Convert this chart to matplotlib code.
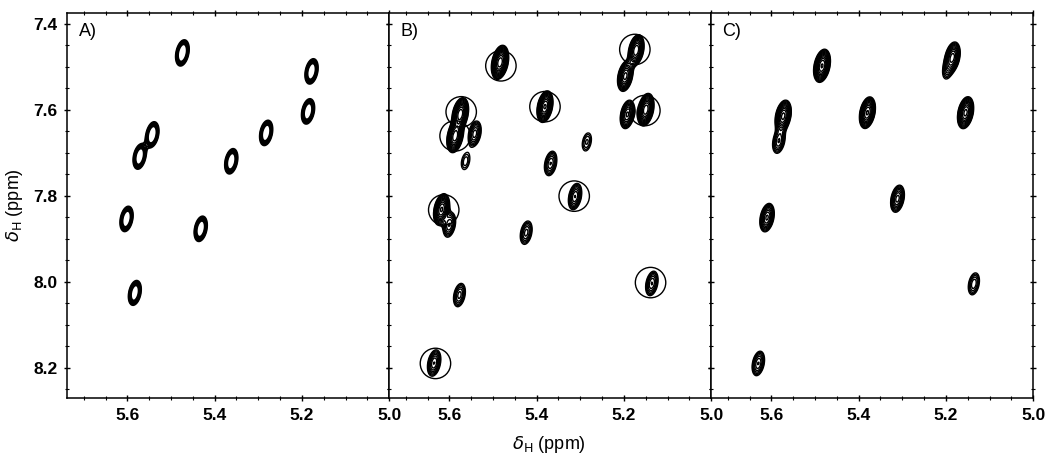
import numpy as np
import matplotlib.pyplot as plt
from matplotlib.ticker import MultipleLocator

plt.rcParams['font.family'] = ['Liberation Sans', 'DejaVu Sans']
plt.rcParams['mathtext.fontset'] = 'dejavusans'

# Peak positions (ppm) and relative intensities
a_x = [5.474, 5.178, 5.186, 5.543, 5.572, 5.282, 5.362, 5.602, 5.432, 5.583]
a_y = [7.468, 7.511, 7.604, 7.658, 7.709, 7.654, 7.720, 7.854, 7.877, 8.026]
a_amp = [1.1, 1.0, 1.0, 1.05, 1.0, 1.0, 1.0, 1.0, 1.0, 0.95]

b_x = [5.484, 5.172, 5.197, 5.150, 5.192, 5.381, 5.575, 5.587, 5.542, 5.563,
       5.285, 5.368, 5.312, 5.618, 5.600, 5.424, 5.136, 5.577, 5.635]
b_y = [7.490, 7.462, 7.522, 7.600, 7.611, 7.593, 7.610, 7.662, 7.656, 7.720,
       7.675, 7.725, 7.802, 7.832, 7.868, 7.886, 8.004, 8.031, 8.189]
b_amp = [3.0, 2.0, 1.8, 2.4, 1.4, 2.1, 2.4, 2.4, 1.0, 0.45,
         0.5, 0.9, 1.1, 2.1, 0.9, 0.8, 0.9, 0.8, 1.1]

# circled peaks in panel B
circ_x = [5.482, 5.175, 5.152, 5.381, 5.573, 5.587, 5.314, 5.613, 5.139, 5.632]
circ_y = [7.498, 7.460, 7.602, 7.593, 7.605, 7.661, 7.801, 7.833, 8.002, 8.190]

c_x = [5.484, 5.185, 5.197, 5.380, 5.155, 5.573, 5.583, 5.311, 5.610, 5.136, 5.630]
c_y = [7.498, 7.478, 7.508, 7.607, 7.607, 7.615, 7.673, 7.807, 7.851, 8.005, 8.190]
c_amp = [2.6, 1.8, 0.45, 2.1, 2.2, 2.2, 0.9, 1.2, 1.4, 0.7, 0.9]

panel_labels = ['A)', 'B)', 'C)']
xticks = [5.6, 5.4, 5.2, 5.0]
yticks = [7.4, 7.6, 7.8, 8.0, 8.2]

XLIM = (5.738, 5.0)
YLIM = (8.27, 7.375)


def spectrum(px, py, amp, sx=0.0085, sy=0.0178, shear=0.15):
    gx = np.linspace(5.0, 5.74, 300)
    gy = np.linspace(7.375, 8.27, 240)
    X, Y = np.meshgrid(gx, gy)
    Z = np.zeros_like(X)
    for x0, y0, a in zip(px, py, amp):
        dy = Y - y0
        dx = X - x0 - shear * dy
        Z += a * np.exp(-0.5 * (dx / sx) ** 2 - 0.5 * (dy / sy) ** 2)
    return X, Y, Z


fig, axes = plt.subplots(1, 3, sharey=True, figsize=(10.5, 4.61), dpi=100)
fig.subplots_adjust(left=0.064, right=0.984, top=0.972, bottom=0.137, wspace=0)

# A: hollow thick rings
X, Y, Z = spectrum(a_x, a_y, a_amp)
axes[0].contour(X, Y, Z, levels=[0.27, 0.33, 0.4, 0.48, 0.57], colors='k', linewidths=1.5)

# B and C: stacks of thin contours
lev = [0.25, 0.31, 0.38, 0.47, 0.58, 0.72, 0.88, 1.08, 1.32, 1.62, 2.0, 2.5, 3.1]
X, Y, Z = spectrum(b_x, b_y, b_amp)
axes[1].contour(X, Y, Z, levels=lev, colors='k', linewidths=1.0)
axes[1].scatter(circ_x, circ_y, s=480, facecolors='none', edgecolors='k', linewidths=1.0)

X, Y, Z = spectrum(c_x, c_y, c_amp)
axes[2].contour(X, Y, Z, levels=lev, colors='k', linewidths=1.0)

for ax, lab in zip(axes, panel_labels):
    ax.set_xlim(*XLIM)
    ax.set_ylim(*YLIM)
    ax.set_xticks(xticks)
    ax.set_yticks(yticks)
    ax.xaxis.set_minor_locator(MultipleLocator(0.05))
    ax.yaxis.set_minor_locator(MultipleLocator(0.05))
    ax.tick_params(which='both', direction='inout', top=True, right=True,
                   labelsize=12.5, pad=5)
    ax.tick_params(which='major', length=4, width=1)
    ax.tick_params(which='minor', length=2.5, width=0.8)
    for t in ax.get_xticklabels() + ax.get_yticklabels():
        t.set_fontweight('bold')
    for s in ax.spines.values():
        s.set_linewidth(1.1)
    ax.text(0.035, 0.975, lab, transform=ax.transAxes, fontsize=13,
            va='top', ha='left')

axes[0].set_yticklabels(['7.4', '7.6', '7.8', '8.0', '8.2'], fontweight='bold')
axes[0].set_ylabel(r'$\delta_{\mathrm{H}}$ (ppm)', fontsize=13, labelpad=6)
fig.text(0.523, 0.025, r'$\delta_{\mathrm{H}}$ (ppm)', fontsize=13, ha='center')

fig.savefig('out.png', dpi=100)
